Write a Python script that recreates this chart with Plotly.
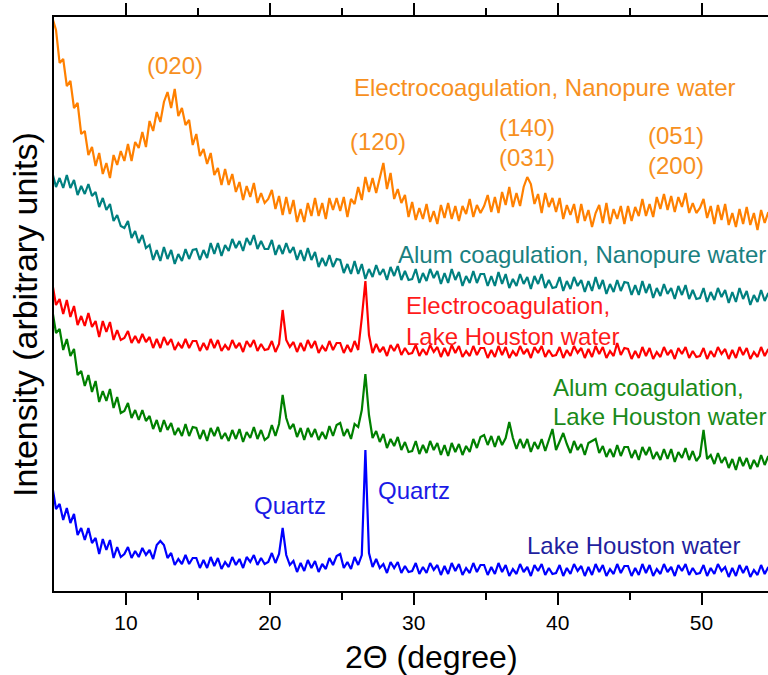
import plotly.graph_objects as go

# 2-theta sampling grid (degrees)
two_theta = [round(4.89 + 0.25 * i, 2) for i in range(200)]

# Intensities (arbitrary units, traces vertically offset)
electro_nanopure = [
    573, 561, 528, 532, 505, 510, 483, 488, 457, 460, 436, 444, 425, 438, 417, 428, 413, 436, 426, 440,
    430, 447, 430, 449, 443, 459, 444, 470, 460, 479, 469, 489, 499, 483, 502, 475, 483, 466, 471, 446,
    457, 435, 442, 427, 438, 416, 423, 406, 422, 406, 417, 399, 409, 391, 405, 394, 408, 388, 398, 388,
    392, 401, 382, 395, 376, 394, 377, 391, 369, 382, 369, 388, 375, 393, 375, 388, 372, 393, 381, 393,
    380, 394, 374, 392, 387, 404, 391, 414, 399, 413, 398, 414, 428, 402, 418, 392, 402, 388, 396, 374,
    389, 371, 383, 372, 387, 369, 380, 367, 386, 373, 388, 372, 385, 370, 385, 377, 392, 374, 386, 378,
    385, 396, 379, 394, 378, 399, 386, 404, 384, 398, 385, 404, 414, 407, 387, 397, 378, 398, 384, 393,
    379, 393, 372, 386, 376, 387, 368, 387, 370, 381, 364, 378, 386, 368, 388, 367, 382, 372, 385, 367,
    385, 370, 384, 375, 392, 375, 387, 374, 394, 382, 397, 381, 395, 379, 394, 384, 398, 378, 388, 378,
    383, 392, 373, 385, 367, 386, 371, 387, 366, 378, 364, 382, 367, 384, 366, 378, 361, 381, 368, 379]

alum_nanopure = [
    418, 404, 413, 403, 416, 403, 411, 396, 405, 397, 407, 395, 399, 384, 393, 381, 387, 370, 376, 365,
    363, 370, 353, 360, 348, 356, 343, 346, 331, 341, 330, 344, 332, 341, 327, 337, 330, 342, 332, 341,
    342, 331, 341, 333, 348, 337, 348, 335, 346, 340, 352, 343, 350, 340, 353, 346, 356, 342, 350, 342,
    342, 351, 336, 346, 337, 348, 338, 344, 331, 341, 330, 343, 331, 339, 324, 333, 325, 336, 324, 332,
    331, 318, 327, 317, 330, 317, 327, 312, 322, 314, 326, 316, 322, 311, 324, 315, 325, 311, 320, 311,
    312, 322, 308, 318, 310, 322, 313, 320, 307, 318, 308, 322, 311, 319, 305, 315, 308, 320, 308, 317,
    317, 305, 315, 305, 319, 307, 317, 303, 312, 305, 317, 307, 314, 302, 315, 307, 317, 303, 311, 303,
    304, 314, 300, 310, 302, 314, 305, 311, 299, 310, 300, 314, 302, 311, 297, 307, 299, 311, 300, 309,
    308, 296, 306, 296, 310, 298, 307, 293, 303, 295, 307, 297, 303, 292, 305, 296, 306, 292, 301, 292,
    293, 303, 289, 299, 291, 303, 294, 301, 288, 299, 289, 303, 292, 300, 286, 296, 289, 301, 290, 298]

electro_lake = [
    307, 286, 292, 277, 291, 274, 285, 266, 275, 265, 278, 264, 270, 254, 270, 259, 269, 251, 261, 251,
    253, 260, 248, 255, 248, 257, 249, 254, 243, 252, 243, 254, 246, 252, 241, 248, 243, 252, 243, 250,
    250, 240, 248, 241, 252, 243, 251, 240, 246, 241, 251, 243, 248, 239, 250, 244, 251, 240, 247, 241,
    242, 250, 239, 247, 281, 251, 244, 249, 239, 248, 240, 251, 243, 250, 238, 245, 240, 250, 241, 248,
    248, 238, 246, 239, 250, 241, 273, 310, 256, 238, 247, 239, 244, 235, 246, 240, 247, 236, 243, 237,
    238, 246, 235, 242, 236, 246, 239, 244, 234, 243, 235, 246, 238, 245, 234, 240, 235, 245, 236, 243,
    243, 233, 241, 234, 245, 236, 244, 233, 240, 235, 245, 237, 242, 233, 244, 238, 245, 234, 241, 235,
    236, 244, 233, 241, 235, 245, 238, 243, 233, 242, 234, 245, 237, 244, 233, 240, 235, 248, 236, 243,
    242, 232, 240, 233, 244, 235, 243, 232, 239, 234, 244, 236, 241, 232, 243, 237, 244, 233, 240, 234,
    235, 243, 232, 240, 234, 244, 237, 242, 232, 241, 233, 244, 236, 243, 232, 239, 234, 244, 235, 242]

alum_lake = [
    280, 258, 262, 241, 252, 235, 242, 216, 220, 205, 216, 199, 210, 189, 200, 190, 202, 183, 194, 178,
    180, 188, 173, 181, 171, 181, 170, 175, 162, 171, 159, 171, 161, 168, 156, 163, 155, 167, 155, 164,
    163, 152, 161, 150, 163, 155, 164, 152, 158, 150, 161, 152, 162, 149, 159, 153, 164, 152, 161, 151,
    154, 166, 155, 167, 196, 173, 162, 167, 154, 163, 151, 163, 154, 162, 151, 159, 152, 165, 155, 166,
    168, 155, 162, 152, 167, 164, 181, 217, 176, 153, 160, 149, 157, 143, 152, 145, 154, 141, 149, 139,
    140, 150, 137, 146, 138, 150, 141, 148, 136, 146, 135, 148, 139, 147, 136, 145, 139, 152, 143, 154,
    156, 146, 155, 144, 155, 146, 153, 169, 153, 142, 152, 143, 152, 139, 149, 142, 152, 140, 151, 162,
    141, 150, 158, 147, 138, 150, 141, 147, 136, 148, 150, 152, 138, 145, 134, 142, 134, 146, 135, 144,
    144, 133, 141, 131, 144, 136, 144, 132, 139, 131, 142, 132, 142, 129, 139, 133, 143, 131, 140, 130,
    135, 161, 132, 136, 127, 138, 128, 134, 123, 132, 121, 134, 125, 133, 122, 131, 124, 136, 126, 135]

lake_houston = [
    104, 82, 87, 71, 83, 68, 77, 56, 63, 51, 63, 48, 53, 37, 52, 41, 51, 33, 44, 34,
    37, 44, 33, 40, 34, 43, 36, 41, 32, 46, 50, 46, 33, 38, 26, 32, 27, 36, 27, 33,
    33, 23, 31, 23, 34, 25, 33, 22, 29, 24, 34, 26, 32, 23, 34, 29, 36, 26, 33, 27,
    29, 38, 28, 37, 63, 36, 26, 30, 19, 28, 20, 31, 23, 30, 19, 27, 22, 33, 26, 35,
    37, 23, 29, 22, 34, 26, 36, 141, 38, 24, 32, 23, 27, 18, 29, 23, 29, 18, 25, 19,
    20, 28, 17, 24, 18, 28, 21, 26, 16, 25, 17, 28, 20, 27, 16, 23, 18, 28, 19, 26,
    26, 16, 24, 17, 28, 19, 26, 15, 22, 17, 27, 19, 24, 15, 26, 20, 27, 16, 23, 17,
    18, 26, 15, 23, 17, 27, 20, 25, 15, 24, 16, 27, 19, 26, 15, 22, 17, 27, 18, 25,
    25, 15, 23, 16, 27, 18, 26, 15, 22, 17, 27, 19, 24, 15, 26, 20, 27, 16, 23, 17,
    18, 26, 15, 23, 17, 27, 20, 24, 14, 23, 15, 26, 18, 25, 14, 21, 16, 26, 17, 24]

series = [
    (electro_nanopure, "#FF8000"),
    (alum_nanopure, "#008080"),
    (electro_lake, "#FF0000"),
    (alum_lake, "#008000"),
    (lake_houston, "#0000FF"),
]

x_ticks = [10, 20, 30, 40, 50]
x_minor = [15, 25, 35, 45]

# text labels: (text, x, y, anchor, color)
labels = [
    ("(020)", 13.41, 526, "center", "#F7901E"),
    ("Electrocoagulation, Nanopure water", 25.71, 504, "left", "#F7901E"),
    ("(120)", 27.52, 450, "center", "#F7901E"),
    ("(140)", 37.87, 464, "center", "#F7901E"),
    ("(031)", 37.87, 434, "center", "#F7901E"),
    ("(051)", 48.22, 456, "center", "#F7901E"),
    ("(200)", 48.22, 426, "center", "#F7901E"),
    ("Alum coagulation, Nanopure water", 28.77, 337, "left", "#1A8080"),
    ("Electrocoagulation,", 29.32, 286, "left", "#FF1A1A"),
    ("Lake Houston water", 29.32, 255, "left", "#FF1A1A"),
    ("Alum coagulation,", 39.54, 204, "left", "#1A8A1A"),
    ("Lake Houston water", 39.54, 175, "left", "#1A8A1A"),
    ("Quartz", 21.40, 86, "center", "#1A1AE6"),
    ("Quartz", 27.38, 101, "left", "#1A1AE6"),
    ("Lake Houston water", 45.24, 46, "center", "#1F1FA0"),
]

fig = go.Figure()
for vals, col in series:
    assert len(vals) == len(two_theta), len(vals)
    fig.add_trace(go.Scatter(x=two_theta, y=vals, mode="lines",
                             line=dict(color=col, width=2.2),
                             showlegend=False, hoverinfo="skip"))

annotations = []
for text, x, y, anchor, col in labels:
    annotations.append(dict(text=text, x=x, y=y, xref="x", yref="y",
                            xanchor=anchor, yanchor="middle", showarrow=False,
                            font=dict(size=24, color=col)))

annotations.append(dict(text="Intensity (arbitrary units)", xref="paper", yref="paper",
                        x=-0.0406, y=0.481, xanchor="center", yanchor="middle",
                        textangle=-90, showarrow=False,
                        font=dict(size=34, color="black")))
annotations.append(dict(text="2\u0398 (degree)", xref="x", yref="paper",
                        x=31.2, y=-0.115, xanchor="center", yanchor="middle",
                        showarrow=False, font=dict(size=32, color="black")))

fig.update_layout(
    width=768, height=675,
    margin=dict(l=54, r=0, t=17, b=84),
    plot_bgcolor="white", paper_bgcolor="white",
    font=dict(family="Liberation Sans, Arial, sans-serif", color="black"),
    annotations=annotations,
    xaxis=dict(range=[5, 54.62], tickvals=x_ticks, ticks="outside", ticklen=12,
               tickwidth=2, tickcolor="black", showline=True, linewidth=2,
               linecolor="black", mirror="ticks", showgrid=False, zeroline=False,
               tickfont=dict(size=21),
               minor=dict(tickvals=x_minor, ticks="outside", ticklen=7,
                          tickwidth=2, tickcolor="black", showgrid=False)),
    yaxis=dict(range=[0, 574], showline=True, linewidth=2, linecolor="black",
               mirror=False, showticklabels=False, ticks="", showgrid=False,
               zeroline=False),
)

fig.write_html("out.html")
